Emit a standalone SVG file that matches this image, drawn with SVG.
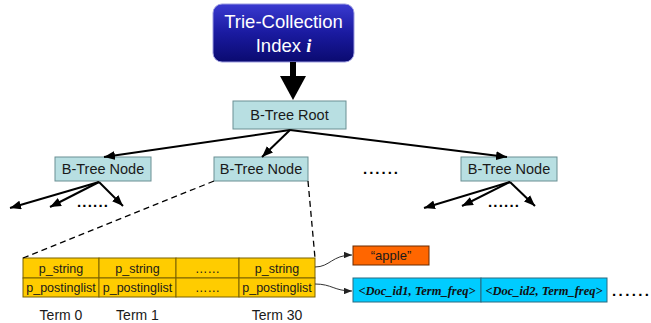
<svg xmlns="http://www.w3.org/2000/svg" width="651" height="323" viewBox="0 0 651 323">
  <style>
    .sans { font-family: "Liberation Sans", Arial, sans-serif; }
    .node rect { fill: #b8dfe2; stroke: #6b8f93; stroke-width: 1; }
    .node text { font-size: 14.5px; fill: #1a1a1a; text-anchor: middle; }
    .edge { stroke: #000; stroke-width: 2; fill: none; marker-end: url(#arrow); }
    .dash { stroke: #000; stroke-width: 1.3; fill: none; stroke-dasharray: 6 4; }
    .thin { stroke: #333; stroke-width: 1; fill: none; marker-end: url(#small); }
    .cell { fill: #ffcc00; stroke: #7a6200; stroke-width: 1; }
    .cell-text { font-size: 12.5px; fill: #1a1a1a; text-anchor: middle; }
    .term { font-size: 14px; fill: #1a1a1a; text-anchor: middle; }
    .doc { font-family: "Liberation Serif", "Times New Roman", serif; font-style: italic; font-weight: bold; font-size: 12.5px; fill: #111; text-anchor: middle; }
    .dots { font-size: 15px; font-weight: bold; fill: #000; }
  </style>
  <defs>
    <linearGradient id="navy" x1="0" y1="0" x2="0" y2="1">
      <stop offset="0" stop-color="#3a3ad0"/>
      <stop offset="0.5" stop-color="#1a1aa0"/>
      <stop offset="1" stop-color="#0a0a70"/>
    </linearGradient>
    <marker id="arrow" viewBox="0 0 10 8" refX="10" refY="4" markerWidth="5.5" markerHeight="4.5" orient="auto" markerUnits="strokeWidth">
      <path d="M0,0 L10,4 L0,8 Z" fill="#000"/>
    </marker>
    <marker id="small" viewBox="0 0 10 8" refX="10" refY="4" markerWidth="8" markerHeight="6.5" orient="auto" markerUnits="strokeWidth">
      <path d="M0,0 L10,4 L0,8 Z" fill="#222"/>
    </marker>
  </defs>

  <!-- Collection index header -->
  <g id="trie-index">
    <rect x="213" y="4" width="141" height="58" rx="9" ry="9" fill="url(#navy)" stroke="#9a9ae0" stroke-width="1"/>
    <text class="sans" x="283.5" y="28" font-size="18.5" fill="#fff" text-anchor="middle">Trie-Collection</text>
    <text x="283.5" y="52" font-size="18.5" fill="#fff" text-anchor="middle"><tspan font-family="Liberation Sans, Arial, sans-serif">Index </tspan><tspan font-family="Liberation Serif, Times New Roman, serif" font-style="italic" font-weight="bold">i</tspan></text>
  </g>

  <!-- B-tree nodes -->
  <g id="btree-root" class="node sans">
    <rect x="233" y="101" width="113" height="28"/>
    <text x="289.5" y="120">B-Tree Root</text>
  </g>
  <g id="btree-node-1" class="node sans">
    <rect x="55" y="157" width="96" height="24"/>
    <text x="103" y="174">B-Tree Node</text>
  </g>
  <g id="btree-node-2" class="node sans">
    <rect x="214" y="157" width="94" height="24"/>
    <text x="261" y="174">B-Tree Node</text>
  </g>
  <g id="btree-node-3" class="node sans">
    <rect x="461" y="157" width="96" height="24"/>
    <text x="509" y="174">B-Tree Node</text>
  </g>

  <!-- Term array -->
  <g id="term-array" class="sans">
    <rect class="cell" x="23" y="258" width="76" height="20"/>
    <rect class="cell" x="99" y="258" width="77" height="20"/>
    <rect class="cell" x="176" y="258" width="63" height="20"/>
    <rect class="cell" x="239" y="258" width="76" height="20"/>
    <rect class="cell" x="23" y="278" width="76" height="19"/>
    <rect class="cell" x="99" y="278" width="77" height="19"/>
    <rect class="cell" x="176" y="278" width="63" height="19"/>
    <rect class="cell" x="239" y="278" width="76" height="19"/>
    <text class="cell-text" x="61" y="273">p_string</text>
    <text class="cell-text" x="137.5" y="273">p_string</text>
    <text class="cell-text" x="207.5" y="273">……</text>
    <text class="cell-text" x="277" y="273">p_string</text>
    <text class="cell-text" x="61" y="292">p_postinglist</text>
    <text class="cell-text" x="137.5" y="292">p_postinglist</text>
    <text class="cell-text" x="207.5" y="292">……</text>
    <text class="cell-text" x="277" y="292">p_postinglist</text>
    <text class="term" x="61" y="320">Term 0</text>
    <text class="term" x="137.5" y="320">Term 1</text>
    <text class="term" x="277" y="320">Term 30</text>
  </g>

  <!-- Term string -->
  <g id="term-string" class="sans">
    <rect x="353" y="246" width="76" height="19" fill="#ff6600" stroke="#6a2a00" stroke-width="1"/>
    <text x="391" y="260" font-size="13" fill="#1a1a1a" text-anchor="middle">“apple”</text>
  </g>

  <!-- Posting list -->
  <g id="posting-list">
    <rect x="353" y="278" width="128" height="24" fill="#00ccff" stroke="#2a6a80" stroke-width="1"/>
    <rect x="481" y="278" width="126" height="24" fill="#00ccff" stroke="#2a6a80" stroke-width="1"/>
    <text class="doc" x="417" y="294.5">&lt;Doc_id1, Term_freq&gt;</text>
    <text class="doc" x="544" y="294.5">&lt;Doc_id2, Term_freq&gt;</text>
    <text class="dots sans" x="612" y="296" letter-spacing="2.4">......</text>
  </g>

  <!-- Ellipses between siblings -->
  <g id="ellipses" class="sans">
    <text class="dots" x="363" y="174" letter-spacing="2">......</text>
    <text class="dots" x="77" y="207" font-size="12" letter-spacing="1.2">......</text>
    <text class="dots" x="488" y="207" font-size="12" letter-spacing="1.2">......</text>
  </g>

  <!-- Connectors -->
  <g id="connectors">
    <line x1="293" y1="62" x2="293" y2="78" stroke="#000" stroke-width="6"/>
    <path d="M280,76 L306,76 L293,100 Z" fill="#000"/>

    <line class="edge" x1="290" y1="130" x2="104" y2="157"/>
    <line class="edge" x1="290" y1="130" x2="262" y2="157"/>
    <line class="edge" x1="290" y1="130" x2="507" y2="157"/>

    <line class="edge" x1="99" y1="182" x2="10" y2="208"/>
    <line class="edge" x1="99" y1="182" x2="50" y2="207"/>
    <line class="edge" x1="99" y1="182" x2="123" y2="206"/>

    <line class="edge" x1="510" y1="182" x2="424" y2="208"/>
    <line class="edge" x1="510" y1="182" x2="462" y2="206"/>
    <line class="edge" x1="510" y1="182" x2="535" y2="206"/>

    <line class="dash" x1="214" y1="181" x2="23" y2="258"/>
    <line class="dash" x1="308" y1="181" x2="315" y2="258"/>

    <path class="thin" d="M315,267 C330,267 332,255 352,255"/>
    <path class="thin" d="M315,284 C332,284 334,291 352,291"/>
  </g>
</svg>
